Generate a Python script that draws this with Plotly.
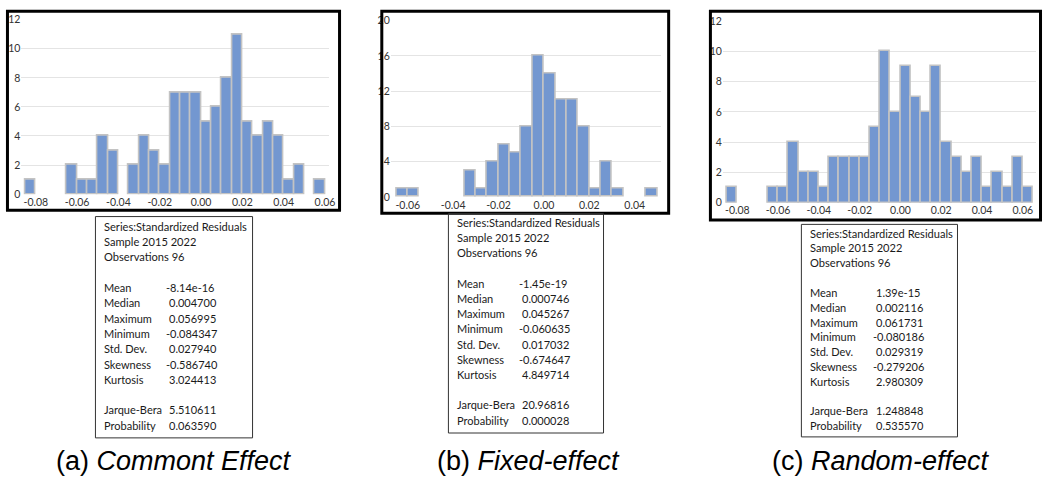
import plotly.graph_objects as go

W, H = 1049, 478

# ---------------- data ----------------
bins_a = [-0.085, -0.080, -0.075, -0.070, -0.065, -0.060, -0.055, -0.050, -0.045, -0.040,
          -0.035, -0.030, -0.025, -0.020, -0.015, -0.010, -0.005, 0.000, 0.005, 0.010,
          0.015, 0.020, 0.025, 0.030, 0.035, 0.040, 0.045, 0.050, 0.055]
counts_a = [1, 0, 0, 0, 2, 1, 1, 4, 3, 0,
            2, 4, 3, 2, 7, 7, 7, 5, 6, 8,
            11, 5, 4, 5, 4, 1, 2, 0, 1]

bins_b = [-0.065, -0.060, -0.055, -0.050, -0.045, -0.040, -0.035, -0.030, -0.025, -0.020,
          -0.015, -0.010, -0.005, 0.000, 0.005, 0.010, 0.015, 0.020, 0.025, 0.030,
          0.035, 0.040, 0.045]
counts_b = [1, 1, 0, 0, 0, 0, 3, 1, 4, 6,
            5, 8, 16, 14, 11, 11, 8, 1, 4, 1,
            0, 0, 1]

bins_c = [-0.085, -0.080, -0.075, -0.070, -0.065, -0.060, -0.055, -0.050, -0.045, -0.040,
          -0.035, -0.030, -0.025, -0.020, -0.015, -0.010, -0.005, 0.000, 0.005, 0.010,
          0.015, 0.020, 0.025, 0.030, 0.035, 0.040, 0.045, 0.050, 0.055, 0.060]
counts_c = [1, 0, 0, 0, 1, 1, 4, 2, 2, 1,
            3, 3, 3, 3, 5, 10, 6, 9, 7, 6,
            9, 4, 3, 2, 3, 1, 2, 1, 3, 1]

bin_width = 0.005

xticks_a = [-0.08, -0.06, -0.04, -0.02, 0.00, 0.02, 0.04, 0.06]
xticks_b = [-0.06, -0.04, -0.02, 0.00, 0.02, 0.04]
xticks_c = [-0.08, -0.06, -0.04, -0.02, 0.00, 0.02, 0.04, 0.06]
yticks_a = [0, 2, 4, 6, 8, 10, 12]
yticks_b = [0, 4, 8, 12, 16, 20]
yticks_c = [0, 2, 4, 6, 8, 10, 12]

stat_header = ["Series:Standardized Residuals", "Sample 2015 2022", "Observations 96"]
stat_labels = ["Mean", "Median", "Maximum", "Minimum", "Std. Dev.", "Skewness", "Kurtosis"]
stat_labels2 = ["Jarque-Bera", "Probability"]
stats_a = ["-8.14e-16", "0.004700", "0.056995", "-0.084347", "0.027940", "-0.586740", "3.024413"]
stats2_a = ["5.510611", "0.063590"]
stats_b = ["-1.45e-19", "0.000746", "0.045267", "-0.060635", "0.017032", "-0.674647", "4.849714"]
stats2_b = ["20.96816", "0.000028"]
stats_c = ["1.39e-15", "0.002116", "0.061731", "-0.080186", "0.029319", "-0.279206", "2.980309"]
stats2_c = ["1.248848", "0.535570"]

captions = [("(a) ", "Commont Effect"), ("(b) ", "Fixed-effect"), ("(c) ", "Random-effect")]

# ---------------- layout geometry (pixels) ----------------
panels = [
    dict(bins=bins_a, counts=counts_a, xt=xticks_a, yt=yticks_a, yr=[0, 12],
         xr=[-0.087, 0.062], dom_x=(21.5, 331), dom_y=(14, 193),
         frame=(7.5, 5.5, 341.5, 209.5),
         box=(96, 216, 254, 443), text_y0=226, dy=15.7, lx=103, vx=168,
         stats=stats_a, stats2=stats2_a, cap_x=175),
    dict(bins=bins_b, counts=counts_b, xt=xticks_b, yt=yticks_b, yr=[0, 20],
         xr=[-0.0675, 0.0518], dom_x=(393, 665.3), dom_y=(15, 196),
         frame=(384, 5.5, 672.5, 212.5),
         box=(451, 213, 607, 438), text_y0=222, dy=15.6, lx=458, vx=523,
         stats=stats_b, stats2=stats2_b, cap_x=532),
    dict(bins=bins_c, counts=counts_c, xt=xticks_c, yt=yticks_c, yr=[0, 12],
         xr=[-0.0871, 0.0665], dom_x=(727, 1042), dom_y=(15.5, 201.7),
         frame=(714.5, 5.5, 1046.5, 219.5),
         box=(806, 224, 963, 442), text_y0=233, dy=15.2, lx=813, vx=879,
         stats=stats_c, stats2=stats2_c, cap_x=886),
]

def px(x):
    return x / W

def py(y):
    return 1 - y / H

fig = go.Figure()
shapes = []
annotations = []
tick_font = dict(family="Lato, Carlito, sans-serif", size=10.5, color="#333333")
head_font = dict(family="Lato, Carlito, sans-serif", size=11.1, color="#1a1a1a")
box_font = dict(family="Lato, Carlito, sans-serif", size=11, color="#1a1a1a")

for i, p in enumerate(panels):
    n = "" if i == 0 else str(i + 1)
    xs = [b + bin_width / 2 for b, c in zip(p["bins"], p["counts"]) if c > 0]
    ys = [c for c in p["counts"] if c > 0]
    fig.add_trace(go.Bar(
        x=xs, y=ys, width=bin_width,
        marker=dict(color="#7397D0", line=dict(color="#C3C3C3", width=1.6)),
        xaxis="x" + n, yaxis="y" + n, showlegend=False, hoverinfo="x+y"))
    fig.layout["xaxis" + n] = dict(
        domain=[px(p["dom_x"][0]), px(p["dom_x"][1])], range=p["xr"],
        anchor="y" + n, tickvals=p["xt"], ticktext=[f"{v:.2f}" for v in p["xt"]],
        showgrid=False, zeroline=False, showline=False, ticks="",
        tickfont=tick_font, fixedrange=True)
    fig.layout["yaxis" + n] = dict(
        domain=[py(p["dom_y"][1]), py(p["dom_y"][0])], range=p["yr"],
        anchor="x" + n, tickvals=p["yt"], showgrid=True, gridcolor="#E4E4E4",
        gridwidth=1, zeroline=False, showline=False, ticks="",
        tickfont=tick_font, fixedrange=True, ticklabelstandoff=0)
    # panel frame
    x0, y0, x1, y1 = p["frame"]
    shapes.append(dict(type="rect", xref="paper", yref="paper",
                       x0=px(x0), x1=px(x1), y0=py(y1), y1=py(y0),
                       line=dict(color="black", width=3), layer="above"))
    # stats box
    bx0, by0, bx1, by1 = p["box"]
    shapes.append(dict(type="rect", xref="paper", yref="paper",
                       x0=px(bx0), x1=px(bx1), y0=py(by1), y1=py(by0),
                       line=dict(color="#333333", width=1)))
    rows = []
    for h in stat_header:
        rows.append((h, None, True))
    rows.append(("", None, False))
    for l, v in zip(stat_labels, p["stats"]):
        rows.append((l, v, False))
    rows.append(("", None, False))
    for l, v in zip(stat_labels2, p["stats2"]):
        rows.append((l, v, False))
    for k, (l, v, hd) in enumerate(rows):
        yy = p["text_y0"] + k * p["dy"]
        if l:
            annotations.append(dict(x=px(p["lx"]), y=py(yy), xref="paper", yref="paper",
                                    text=l, showarrow=False, xanchor="left", yanchor="middle",
                                    font=head_font if hd else box_font))
        if v is not None:
            vx = p["vx"] - (3 if v.startswith("-") else 0)
            annotations.append(dict(x=px(vx), y=py(yy), xref="paper", yref="paper",
                                    text=v, showarrow=False, xanchor="left", yanchor="middle",
                                    font=box_font))
    # caption
    a, b = captions[i]
    annotations.append(dict(x=px(p["cap_x"]), y=py(467), xref="paper", yref="paper",
                            text=f"{a}<i>{b}</i>", showarrow=False, xanchor="center",
                            yanchor="middle",
                            font=dict(family="Liberation Sans, Arial, sans-serif", size=27,
                                      color="black")))

fig.update_layout(width=W, height=H, autosize=False,
                  margin=dict(l=0, r=0, t=0, b=0),
                  paper_bgcolor="white", plot_bgcolor="white",
                  bargap=0, shapes=shapes, annotations=annotations)

fig.write_html("out.html", config={"displayModeBar": False},
               post_script="document.body.style.margin='0';document.body.style.overflow='hidden';")
